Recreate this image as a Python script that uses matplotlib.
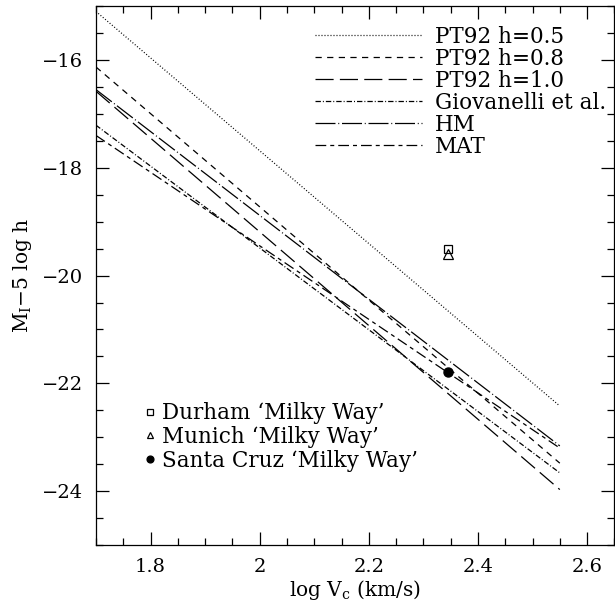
import matplotlib
matplotlib.use("Agg")
import matplotlib.pyplot as plt
from matplotlib.ticker import MultipleLocator

# end points of the Tully-Fisher relations (log Vc)
logv = [1.7, 2.55]

pt92_h05 = [-15.10, -22.42]
pt92_h08 = [-16.13, -23.48]
pt92_h10 = [-16.58, -23.97]
giovanelli = [-17.21, -23.66]
hm = [-16.55, -23.16]
mat = [-17.40, -23.20]

# model 'Milky Way' galaxies
mw_logv = 2.345
durham_mag = -19.50
munich_mag = -19.60
santacruz_mag = -21.78

plt.rcParams['font.family'] = ['DejaVu Serif']
plt.rcParams['mathtext.fontset'] = 'dejavuserif'

fig = plt.figure(figsize=(6.15, 6.05), dpi=100)
ax = fig.add_axes([0.156, 0.099, 0.843, 0.891])

lw = 0.9
l1, = ax.plot(logv, pt92_h05, color='k', lw=lw, linestyle=(0, (0.8, 1.6)), label='PT92 h=0.5')
l2, = ax.plot(logv, pt92_h08, color='k', lw=lw, linestyle=(0, (5, 4.3)), label='PT92 h=0.8')
l3, = ax.plot(logv, pt92_h10, color='k', lw=lw, linestyle=(0, (14.5, 5)), label='PT92 h=1.0')
l4, = ax.plot(logv, giovanelli, color='k', lw=lw, linestyle=(0, (4.3, 1.6, 0.8, 1.6)), label='Giovanelli et al.')
l5, = ax.plot(logv, hm, color='k', lw=lw, linestyle=(0, (16, 2.2, 0.8, 2.2)), label='HM')
l6, = ax.plot(logv, mat, color='k', lw=lw, linestyle=(0, (8.6, 3.2, 3.2, 3.2)), label='MAT')

p1, = ax.plot([mw_logv], [durham_mag], 's', mfc='none', mec='k', ms=6, mew=0.9, ls='none',
              label="Durham \u2018Milky Way\u2019")
p2, = ax.plot([mw_logv], [munich_mag], '^', mfc='none', mec='k', ms=6.5, mew=0.9, ls='none',
              label="Munich \u2018Milky Way\u2019")
p3, = ax.plot([mw_logv], [santacruz_mag], 'o', color='k', ms=6.5, ls='none',
              label="Santa Cruz \u2018Milky Way\u2019")

ax.set_xlim(1.7, 2.65)
ax.set_ylim(-25, -15)
ax.xaxis.set_major_locator(MultipleLocator(0.2))
ax.xaxis.set_minor_locator(MultipleLocator(0.05))
ax.yaxis.set_major_locator(MultipleLocator(2))
ax.yaxis.set_minor_locator(MultipleLocator(0.5))
ax.xaxis.set_major_formatter(matplotlib.ticker.FuncFormatter(lambda v, p: f"{v:g}"))
ax.tick_params(which='both', direction='in', top=True, right=True, labelsize=14, width=0.9)
ax.tick_params(which='major', length=9.5, pad=9)
ax.tick_params(which='minor', length=5)
for s in ax.spines.values():
    s.set_linewidth(0.9)

ax.set_xlabel(r'log V$_{\rm c}$ (km/s)', fontsize=14.5, labelpad=2)
ax.set_ylabel(r'M$_{\rm I}$$-$5 log h', fontsize=14.5, labelpad=6)

leg1 = ax.legend(handles=[l1, l2, l3, l4, l5, l6], loc='upper left', frameon=False,
                 fontsize=15.5, handlelength=5.0, handletextpad=0.6, labelspacing=0.0,
                 borderpad=0.0, borderaxespad=0.0, bbox_to_anchor=(0.422, 0.963))
ax.add_artist(leg1)
ax.legend(handles=[p1, p2, p3], loc='upper left', frameon=False, fontsize=15.5,
          handlelength=0.5, handletextpad=0.32, labelspacing=0.08, markerscale=0.75,
          borderpad=0.0, borderaxespad=0.0, bbox_to_anchor=(0.094, 0.265))

fig.savefig('out.png', dpi=100)
